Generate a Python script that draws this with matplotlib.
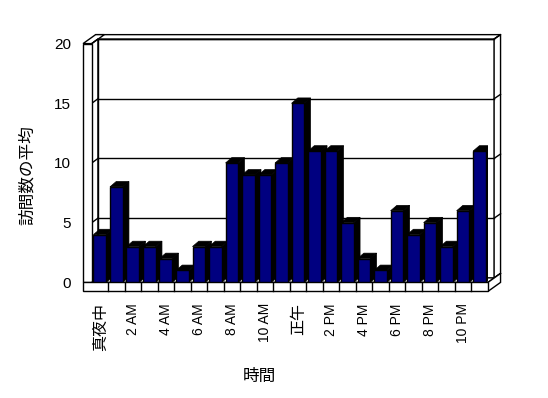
import matplotlib
matplotlib.use("Agg")
import matplotlib.pyplot as plt
from matplotlib.patches import Polygon, Rectangle
import numpy as np

plt.rcParams['font.family'] = ['Liberation Sans', 'Noto Sans CJK JP']

# data
hours = ["真夜中", "1 AM", "2 AM", "3 AM", "4 AM", "5 AM", "6 AM", "7 AM",
         "8 AM", "9 AM", "10 AM", "11 AM", "正午", "1 PM", "2 PM", "3 PM",
         "4 PM", "5 PM", "6 PM", "7 PM", "8 PM", "9 PM", "10 PM", "11 PM"]
visits = [4, 8, 3, 3, 2, 1, 3, 3, 10, 9, 9, 10, 15, 11, 11, 5, 2, 1, 6, 4, 5, 3, 6, 11]
yticks = [0, 5, 10, 15, 20]

n = len(visits)
ymax = 20

fig = plt.figure(figsize=(5.48, 3.98), dpi=100)
ax = fig.add_axes([91.8 / 548, 1 - 282.4 / 398, (488 - 91.8) / 548, (282.4 - 43.6) / 398])
ax.set_xlim(0, n)
ax.set_ylim(0, ymax)
for s in ax.spines.values():
    s.set_visible(False)

# depth offsets (data units)
dx1, dy1 = 0.37, 0.38    # back wall plane
dx2, dy2 = 0.76, 0.75    # back of walls
wall_w = 0.53            # left wall thickness
floor_t = 0.75           # floor thickness

lw = 1.0
kw = dict(closed=True, ec='black', lw=lw, clip_on=False, joinstyle='miter')

# back wall
ax.add_patch(Polygon([(dx1, dy1), (n + dx1, dy1), (n + dx1, ymax + dy1), (dx1, ymax + dy1)],
                     fc='white', zorder=1, **kw))
ax.add_patch(Polygon([(-wall_w + dx2, ymax + dy2), (n + dx2, ymax + dy2),
                      (n + dx1, ymax + dy1), (dx1, ymax + dy1)], fc='white', zorder=1, **kw))
ax.add_patch(Polygon([(n + dx1, dy1), (n + dx1, ymax + dy1), (n + dx2, ymax + dy2), (n + dx2, dy2)],
                     fc='white', zorder=1, **kw))
# gridlines on back wall and tick marks on side strips
for v in yticks:
    ax.plot([dx1, n + dx1], [v + dy1, v + dy1], color='black', lw=lw, zorder=2, clip_on=False)
    ax.plot([n + dx1, n + dx2], [v + dy1, v + dy2], color='black', lw=lw, zorder=2, clip_on=False)

# left wall
ax.add_patch(Polygon([(-wall_w, ymax), (0, ymax), (dx2, ymax + dy2), (-wall_w + dx2, ymax + dy2)],
                     fc='white', zorder=3, **kw))
ax.add_patch(Polygon([(0, 0), (0, ymax), (dx1, ymax + dy1), (dx1, dy1)], fc='white', zorder=3, **kw))
for v in yticks:
    ax.plot([0, dx1], [v, v + dy1], color='black', lw=lw, zorder=3, clip_on=False)
ax.add_patch(Rectangle((-wall_w, 0), wall_w, ymax, fc='white', ec='black', lw=lw,
                       zorder=3, clip_on=False))

# floor
ax.add_patch(Polygon([(0, 0), (n, 0), (n + dx1, dy1), (dx1, dy1)], fc='white', zorder=3, **kw))
ax.add_patch(Polygon([(n, 0), (n, -floor_t), (n + dx2, -floor_t + dy2), (n + dx2, dy2)],
                     fc='white', zorder=3, **kw))
ax.add_patch(Rectangle((-wall_w, -floor_t), n + wall_w, floor_t, fc='white', ec='black', lw=lw,
                       zorder=3, clip_on=False))
for i in range(1, n):
    ax.plot([i, i], [-floor_t, 0], color='black', lw=lw, zorder=3, clip_on=False)

# bars with depth
bl, bw = 0.1, 0.77
bdx, bdy = 0.38, 0.45
x = np.arange(n)
for i, v in enumerate(visits):
    z = 5 + i * 0.01
    x0, x1 = i + bl, i + bl + bw
    ax.add_patch(Polygon([(x1, 0), (x1 + bdx, bdy), (x1 + bdx, v + bdy), (x1, v)],
                         closed=True, fc='black', ec='black', lw=0.5, zorder=z))
    ax.add_patch(Polygon([(x0, v), (x1, v), (x1 + bdx, v + bdy), (x0 + bdx, v + bdy)],
                         closed=True, fc='black', ec='black', lw=0.5, zorder=z))
ax.bar(x + bl, visits, width=bw, align='edge', color='#000080', ec='black', lw=1, zorder=6)

# ticks
ax.set_yticks(yticks)
ax.set_yticklabels([str(t) for t in yticks], fontsize=11)
ax.tick_params(axis='y', length=0, pad=15)
ax.set_xticks(x[::2] + 0.5)
labels = ax.set_xticklabels(hours[::2], rotation=90, va='top')
for lab in labels:
    if any(ord(c) > 0x3000 for c in lab.get_text()):
        lab.set_fontsize(11.5)
    else:
        lab.set_fontsize(10)
ax.tick_params(axis='x', length=0, pad=15)

fig.text(259 / 548, 1 - 376 / 398, "時間", fontsize=12, ha='center', va='center')
fig.text(27 / 548, 1 - 175 / 398, "訪問数の平均", fontsize=12, rotation=90, ha='center', va='center')

fig.savefig("out.png", dpi=100)
